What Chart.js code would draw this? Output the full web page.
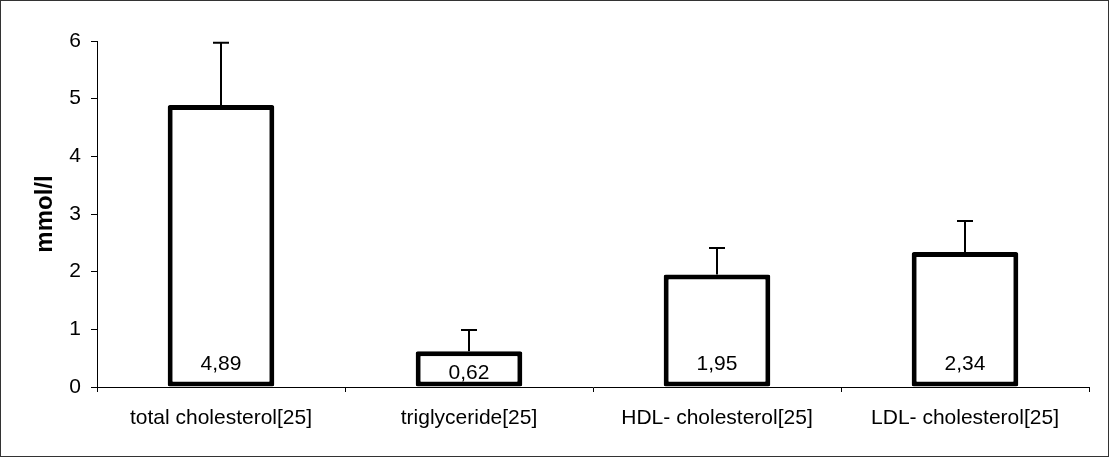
<!DOCTYPE html>
<html>
<head>
<meta charset="utf-8">
<script src="https://cdn.jsdelivr.net/npm/chart.js"></script>
<style>
  html, body { margin: 0; padding: 0; background: #fff; }
  #wrap {
    width: 1109px; height: 457px; box-sizing: border-box;
    border: 1px solid #333; position: relative;
  }
</style>
</head>
<body>
<div id="wrap"><canvas id="chart" width="1107" height="455"></canvas></div>
<script>
// ── DATA
const categories = ['total cholesterol[25]', 'triglyceride[25]', 'HDL- cholesterol[25]', 'LDL- cholesterol[25]'];
const means      = [4.89, 0.62, 1.95, 2.34];
const errors     = [1.08, 0.37, 0.46, 0.54];   // upper error only
const yTicks     = [0, 1, 2, 3, 4, 5, 6];

const FONT = 'Arial, "Liberation Sans", sans-serif';

// ── error bars + value labels inside the bars
const errorBarPlugin = {
  id: 'errorBars',
  afterDatasetsDraw(chart) {
    const { ctx, scales: { y } } = chart;
    const meta = chart.getDatasetMeta(0);
    const y0 = y.getPixelForValue(0);
    ctx.save();
    ctx.strokeStyle = '#000';
    ctx.lineWidth = 2;
    meta.data.forEach((bar, i) => {
      const top = y.getPixelForValue(means[i]);
      const hi  = y.getPixelForValue(means[i] + errors[i]);
      ctx.beginPath();
      ctx.moveTo(bar.x, top);
      ctx.lineTo(bar.x, hi);
      ctx.moveTo(bar.x - 8, hi);
      ctx.lineTo(bar.x + 8, hi);
      ctx.stroke();
    });
    ctx.fillStyle = '#000';
    ctx.font = '21px ' + FONT;
    ctx.textAlign = 'center';
    ctx.textBaseline = 'alphabetic';
    meta.data.forEach((bar, i) => {
      const label = means[i].toFixed(2).replace('.', ',');
      // short bars: label centred in the box
      const base = Math.max(y0 - 17, (bar.y + y0) / 2 + 10);
      ctx.fillText(label, bar.x, base);
    });
    ctx.restore();
  }
};

new Chart(document.getElementById('chart'), {
  type: 'bar',
  data: {
    labels: categories,
    datasets: [{
      data: means,
      backgroundColor: '#fff',
      borderColor: '#000',
      borderWidth: 5,
      borderRadius: 2,
      borderSkipped: false,
      categoryPercentage: 1,
      barPercentage: 0.43,
    }]
  },
  options: {
    responsive: false,
    animation: false,
    layout: { padding: { top: 40, right: 19, bottom: 0, left: 0 } },
    plugins: {
      legend: { display: false },
      tooltip: { enabled: false }
    },
    scales: {
      x: {
        afterFit: s => { s.height = 69; },
        grid: { offset: true, drawOnChartArea: false, drawTicks: true, tickLength: 5, color: '#000' },
        border: { display: true, color: '#000', width: 1 },
        ticks: { color: '#000', font: { family: FONT, size: 21 }, padding: 14, maxRotation: 0 }
      },
      y: {
        min: 0, max: 6,
        afterFit: s => { s.width = 96; },
        afterBuildTicks: s => { s.ticks = yTicks.map(v => ({ value: v })); },
        grid: { drawOnChartArea: false, drawTicks: true, tickLength: 6, color: '#000' },
        border: { display: true, color: '#000', width: 1 },
        ticks: { color: '#000', font: { family: FONT, size: 21 }, padding: 10 },
        title: {
          display: true, text: 'mmol/l', color: '#000',
          font: { family: FONT, size: 24, weight: 'bold' },
          padding: { top: 30, bottom: 0 }
        }
      }
    }
  },
  plugins: [errorBarPlugin]
});
</script>
</body>
</html>
